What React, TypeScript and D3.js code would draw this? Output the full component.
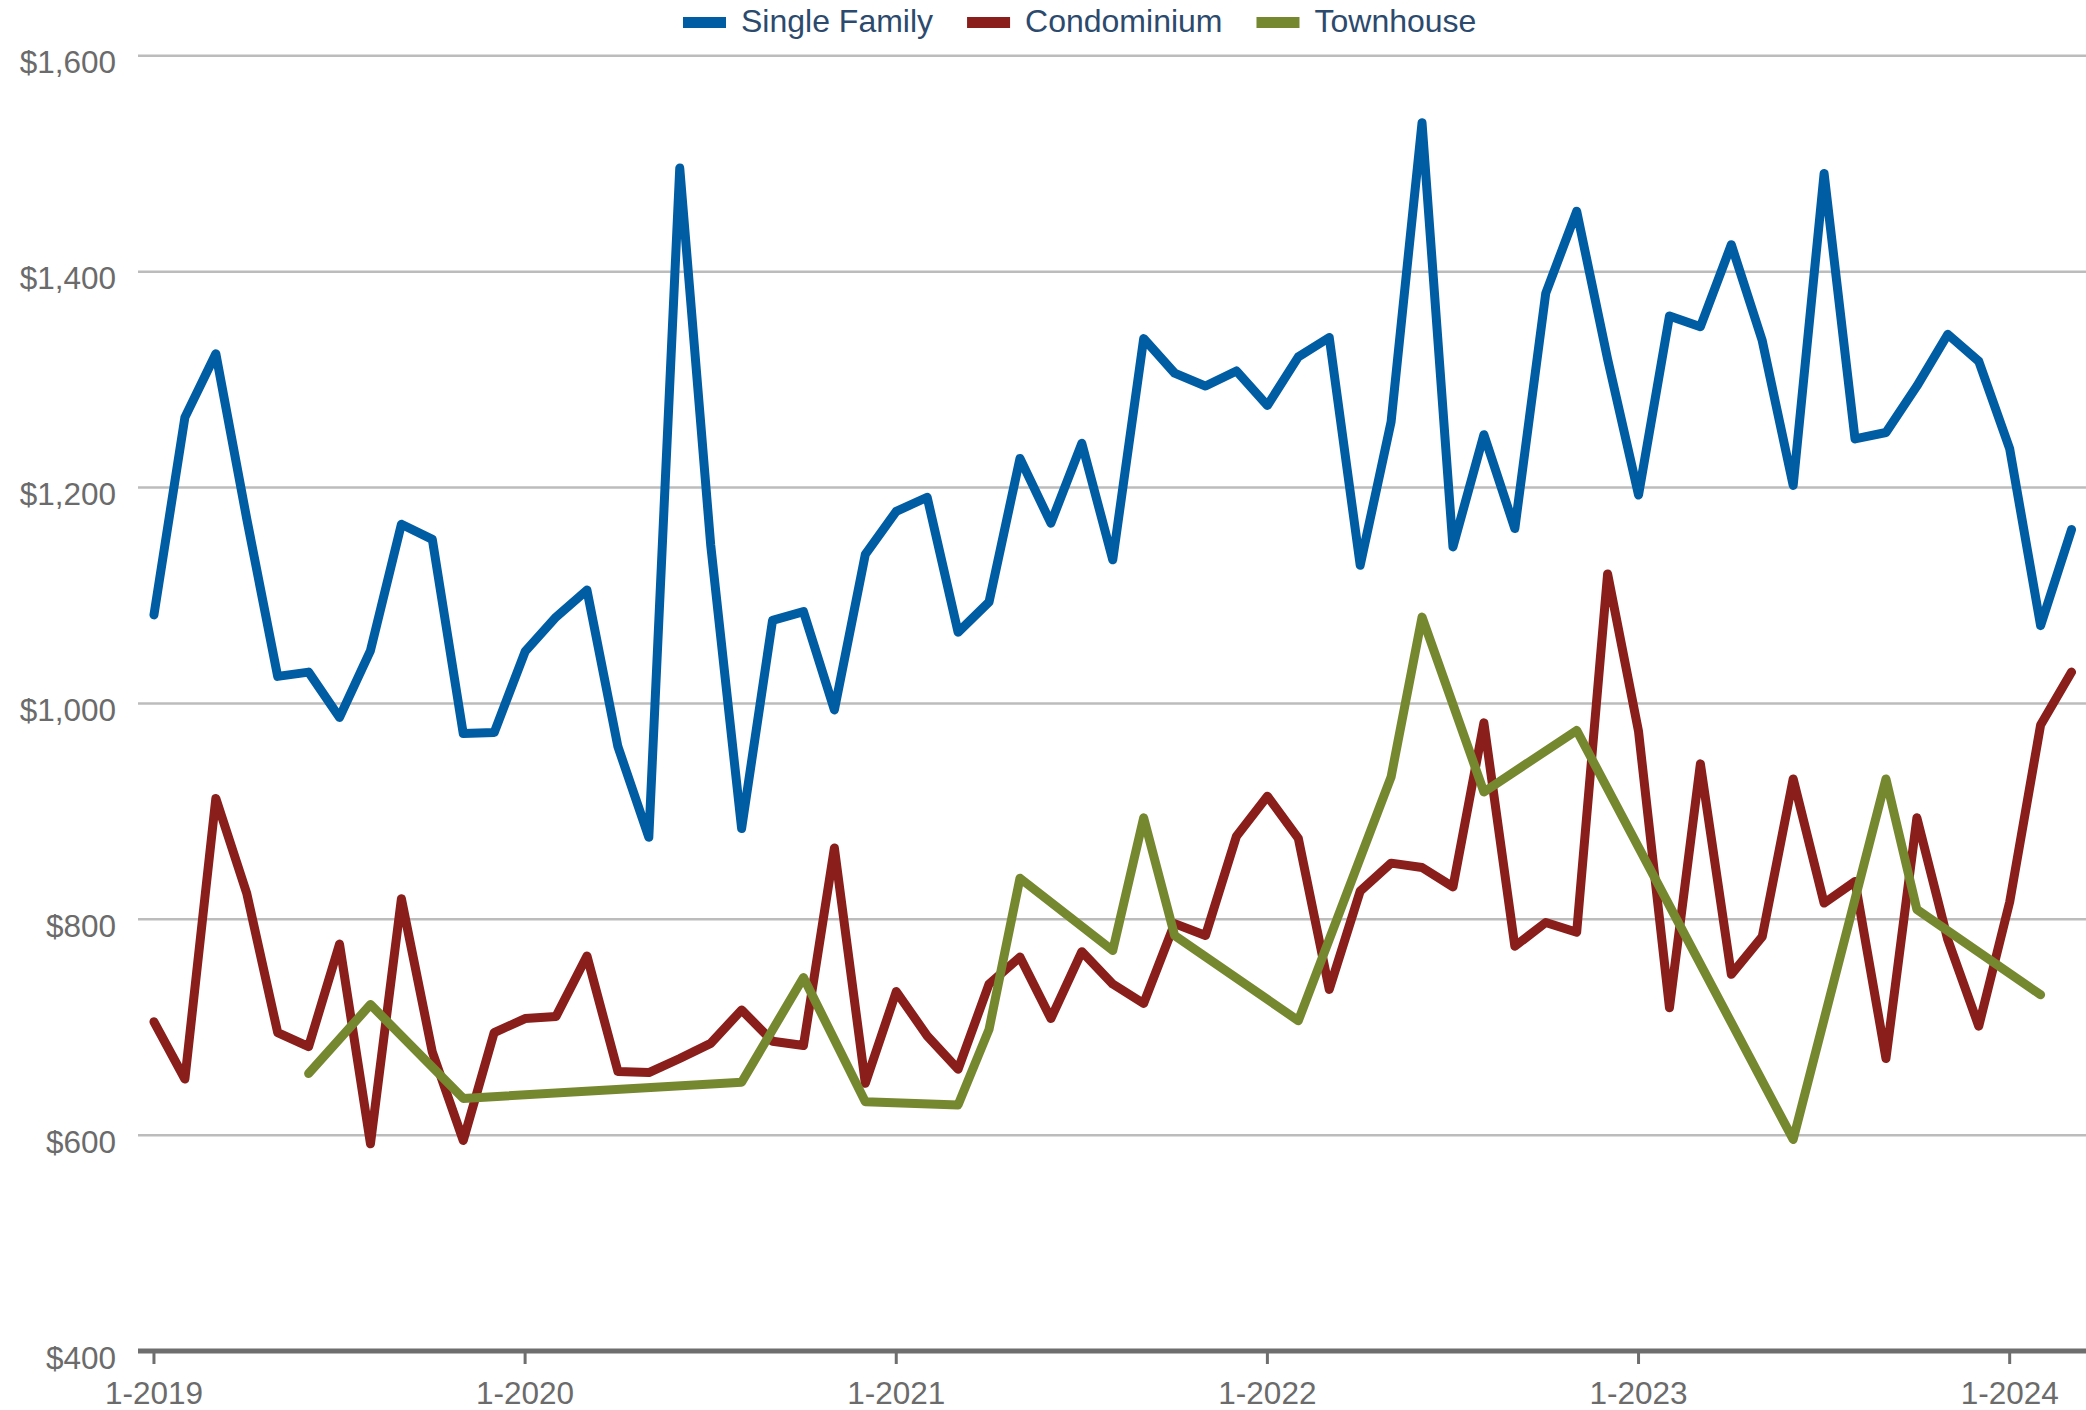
import React, { useEffect, useRef } from "react";
import * as d3 from "d3";

// monthly categories, 1-2019 .. 3-2024
const years = [2019, 2020, 2021, 2022, 2023, 2024];
const months: string[] = [];
years.forEach((y) => {
  for (let m = 1; m <= 12; m++) {
    if (y === 2024 && m > 3) break;
    months.push(`${m}-${y}`);
  }
});

const xTickLabels = ["1-2019", "1-2020", "1-2021", "1-2022", "1-2023", "1-2024"];
const yTicks = [400, 600, 800, 1000, 1200, 1400, 1600];

const singleFamily = [
  1082, 1265, 1324, 1171, 1025, 1029, 987, 1049, 1166, 1152, 972, 973,
  1048, 1080, 1105, 960, 876, 1496, 1147, 884, 1077, 1085, 994, 1138,
  1178, 1191, 1066, 1094, 1227, 1167, 1241, 1133, 1338, 1306, 1294, 1308,
  1276, 1321, 1339, 1128, 1261, 1538, 1145, 1249, 1162, 1380, 1456, 1319,
  1193, 1359, 1349, 1425, 1336, 1202, 1491, 1245, 1251, 1294, 1342, 1317,
  1236, 1072, 1161,
];

const condominium = [
  705, 652, 912, 824, 695, 682, 777, 592, 819, 677, 595, 695,
  708, 710, 766, 659, 658, 671, 685, 716, 687, 683, 866, 648,
  733, 692, 661, 740, 765, 708, 770, 740, 722, 796, 785, 877,
  914, 875, 735, 826, 852, 848, 830, 982, 775, 797, 788, 1120,
  974, 718, 944, 749, 784, 930, 815, 835, 671, 894, 781, 701,
  816, 980, 1029,
];

const townhouse: (number | null)[] = [
  null, null, null, null, null, 657, null, 721, null, null, 634, null,
  null, null, null, null, null, null, null, 649, null, 746, null, 631,
  null, null, 628, 698, 838, null, null, 771, 894, 785, null, null,
  null, 706, null, null, 932, 1080, null, 918, null, null, 975, null,
  null, null, null, null, null, 596, null, null, 930, 809, null, null,
  null, 730, null,
];

const seriesNames = ["Single Family", "Condominium", "Townhouse"];
const seriesColors = ["#005da3", "#891e1a", "#76882f"];

const W = 2086;
const H = 1410;
const FONT = "'Liberation Sans', Arial, sans-serif";

export default function App() {
  const ref = useRef<SVGSVGElement | null>(null);

  useEffect(() => {
    const svg = d3.select(ref.current);
    svg.selectAll("*").remove();

    const x = d3.scaleBand<string>().domain(months).range([138.5, 2087]);
    const y = d3.scaleLinear().domain([400, 1600]).range([1351, 55.8]);
    const cx = (m: string) => (x(m) as number) + x.bandwidth() / 2;

    // gridlines
    svg.append("g")
      .selectAll("line")
      .data(yTicks.filter((t) => t !== 400))
      .join("line")
      .attr("x1", 138)
      .attr("x2", W)
      .attr("y1", (d) => y(d))
      .attr("y2", (d) => y(d))
      .attr("stroke", "#bcbcbc")
      .attr("stroke-width", 2.5);

    // y labels
    svg.append("g")
      .selectAll("text")
      .data(yTicks)
      .join("text")
      .attr("x", 116)
      .attr("y", (d) => y(d) + 17.5)
      .attr("text-anchor", "end")
      .attr("font-family", FONT)
      .attr("font-size", 31.5)
      .attr("fill", "#6b6b6b")
      .text((d) => d3.format("$,")(d));

    // x axis
    const xAxis = svg.append("g");
    xAxis.append("line")
      .attr("x1", 138)
      .attr("x2", W)
      .attr("y1", y(400))
      .attr("y2", y(400))
      .attr("stroke", "#6e6e6e")
      .attr("stroke-width", 5);
    xAxis.selectAll("line.tick")
      .data(xTickLabels)
      .join("line")
      .attr("class", "tick")
      .attr("x1", (d) => cx(d))
      .attr("x2", (d) => cx(d))
      .attr("y1", y(400))
      .attr("y2", y(400) + 13)
      .attr("stroke", "#6e6e6e")
      .attr("stroke-width", 3);
    xAxis.selectAll("text")
      .data(xTickLabels)
      .join("text")
      .attr("x", (d) => cx(d))
      .attr("y", 1404)
      .attr("text-anchor", "middle")
      .attr("font-family", FONT)
      .attr("font-size", 31.5)
      .attr("fill", "#6b6b6b")
      .text((d) => d);

    // lines
    const allSeries = [singleFamily, condominium, townhouse];
    const line = d3.line<{ m: string; v: number }>()
      .x((d) => cx(d.m))
      .y((d) => y(d.v));

    allSeries.forEach((vals, i) => {
      const pts = vals
        .map((v, j) => ({ m: months[j], v: v as number }))
        .filter((d) => d.v !== null && d.v !== undefined);
      svg.append("path")
        .datum(pts)
        .attr("d", line)
        .attr("fill", "none")
        .attr("stroke", seriesColors[i])
        .attr("stroke-width", 9)
        .attr("stroke-linejoin", "round")
        .attr("stroke-linecap", "round");
    });

    // legend
    const legend = svg.append("g");
    let lx = 683;
    seriesNames.forEach((name, i) => {
      legend.append("rect")
        .attr("x", lx)
        .attr("y", 17)
        .attr("width", 43)
        .attr("height", 11)
        .attr("fill", seriesColors[i]);
      const t = legend.append("text")
        .attr("x", lx + 58)
        .attr("y", 32)
        .attr("font-family", FONT)
        .attr("font-size", 32)
        .attr("fill", "#2b4a6d")
        .text(name);
      const tw = (t.node() as SVGTextElement).getComputedTextLength();
      lx = lx + 58 + tw + 34;
    });
  }, []);

  return (
    <div style={{ position: "absolute", left: 0, top: 0 }}>
      <svg ref={ref} width={W} height={H} style={{ display: "block", background: "#fff" }} />
    </div>
  );
}
